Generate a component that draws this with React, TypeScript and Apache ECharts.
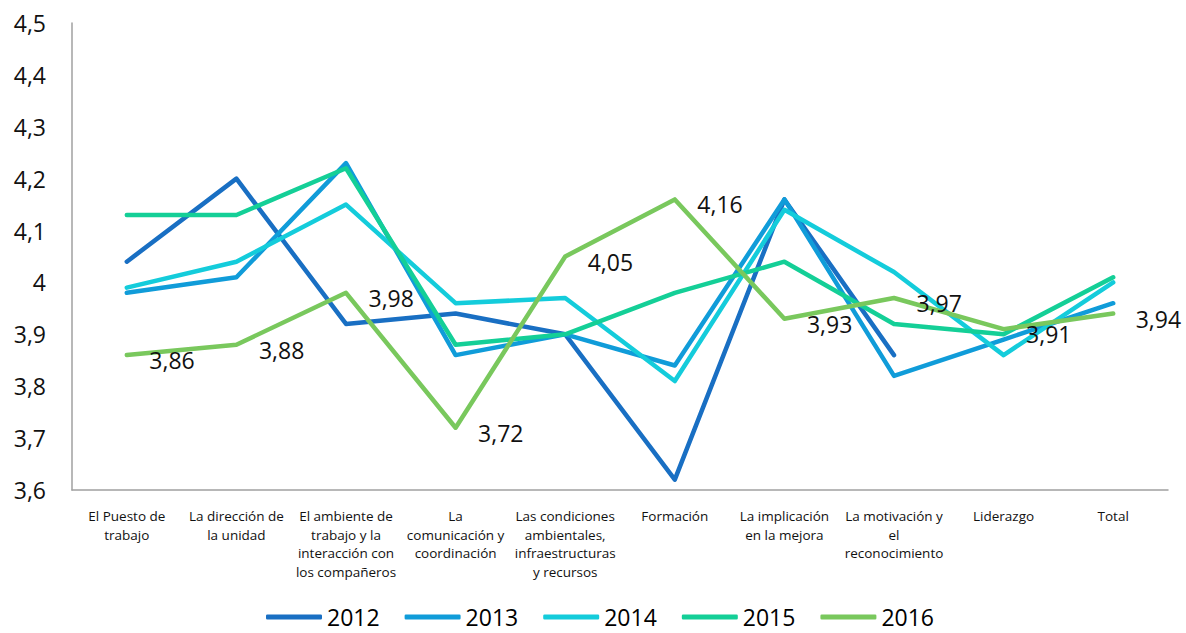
import React, { useEffect, useRef } from "react";
import * as echarts from "echarts";

const categories = [
  "El Puesto de\ntrabajo",
  "La dirección de\nla unidad",
  "El ambiente de\ntrabajo y la\ninteracción con\nlos compañeros",
  "La\ncomunicación y\ncoordinación",
  "Las condiciones\nambientales,\ninfraestructuras\ny recursos",
  "Formación",
  "La implicación\nen la mejora",
  "La motivación y\nel\nreconocimiento",
  "Liderazgo",
  "Total",
];

const years = ["2012", "2013", "2014", "2015", "2016"];

const values2012 = [4.04, 4.2, 3.92, 3.94, 3.9, 3.62, 4.16, 3.86, null, null];
const values2013 = [3.98, 4.01, 4.23, 3.86, 3.9, 3.84, 4.16, 3.82, 3.89, 3.96];
const values2014 = [3.99, 4.04, 4.15, 3.96, 3.97, 3.81, 4.14, 4.02, 3.86, 4.0];
const values2015 = [4.13, 4.13, 4.22, 3.88, 3.9, 3.98, 4.04, 3.92, 3.9, 4.01];
const values2016 = [3.86, 3.88, 3.98, 3.72, 4.05, 4.16, 3.93, 3.97, 3.91, 3.94];

const colors = ["#196FC3", "#109CD9", "#14CCDB", "#14CF97", "#79C85D"];

const FONT = "'Open Sans', sans-serif";

export default function App() {
  const ref = useRef<HTMLDivElement>(null);
  useEffect(() => {
    document.body.style.margin = "0";
    document.body.style.overflow = "hidden";
    if (!ref.current) return;
    const chart = echarts.init(ref.current, null, { renderer: "svg" });
    const all = [values2012, values2013, values2014, values2015, values2016];
    chart.setOption({
      animation: false,
      backgroundColor: "#ffffff",
      color: colors,
      grid: { left: 72, right: 18, top: 23, bottom: 143, containLabel: false },
      legend: {
        data: years.map((y, i) => ({
          name: y,
          icon: "roundRect",
          itemStyle: { color: colors[i], opacity: 1, borderWidth: 0 },
        })),
        top: 605,
        left: 266,
        padding: 0,
        itemWidth: 56,
        itemHeight: 5,
        itemGap: 25,
        itemStyle: { opacity: 1 },
        lineStyle: { opacity: 1 },
        textStyle: { fontFamily: FONT, fontSize: 23, lineHeight: 24, color: "#000" },
      },
      xAxis: {
        type: "category",
        data: categories,
        boundaryGap: true,
        axisLine: { show: true, lineStyle: { color: "#a0a0a0", width: 1.5 } },
        axisTick: { show: false },
        axisLabel: {
          interval: 0,
          margin: 17,
          fontFamily: FONT,
          fontSize: 13.5,
          lineHeight: 18.5,
          color: "#111",
        },
      },
      yAxis: {
        type: "value",
        min: 3.6,
        max: 4.5,
        interval: 0.1,
        axisLine: { show: true, lineStyle: { color: "#a0a0a0", width: 1.5 } },
        axisTick: { show: false },
        splitLine: { show: false },
        axisLabel: {
          margin: 26,
          fontFamily: FONT,
          fontSize: 23,
          color: "#111",
          formatter: (v: number) => String(Math.round(v * 10) / 10).replace(".", ","),
        },
      },
      series: years.map((y, i) => ({
        name: y,
        type: "line",
        data: all[i],
        symbol: "circle",
        symbolSize: 1,
        showSymbol: i === 4,
        itemStyle: { color: colors[i], opacity: 0 },
        smooth: false,
        connectNulls: false,
        lineStyle: { width: 4.5, color: colors[i], cap: "round", join: "round", opacity: 1 },
        label:
          i === 4
            ? {
                show: true,
                position: "right",
                distance: 22,
                fontFamily: FONT,
                fontSize: 23,
                color: "#111",
                opacity: 1,
                formatter: (p: any) => Number(p.value).toFixed(2).replace(".", ","),
              }
            : { show: false },
        labelLayout: { hideOverlap: false, dy: 5 },
        z: 2 + i,
      })),
    });
    return () => chart.dispose();
  }, []);
  return <div ref={ref} style={{ width: 1186, height: 633 }} />;
}
